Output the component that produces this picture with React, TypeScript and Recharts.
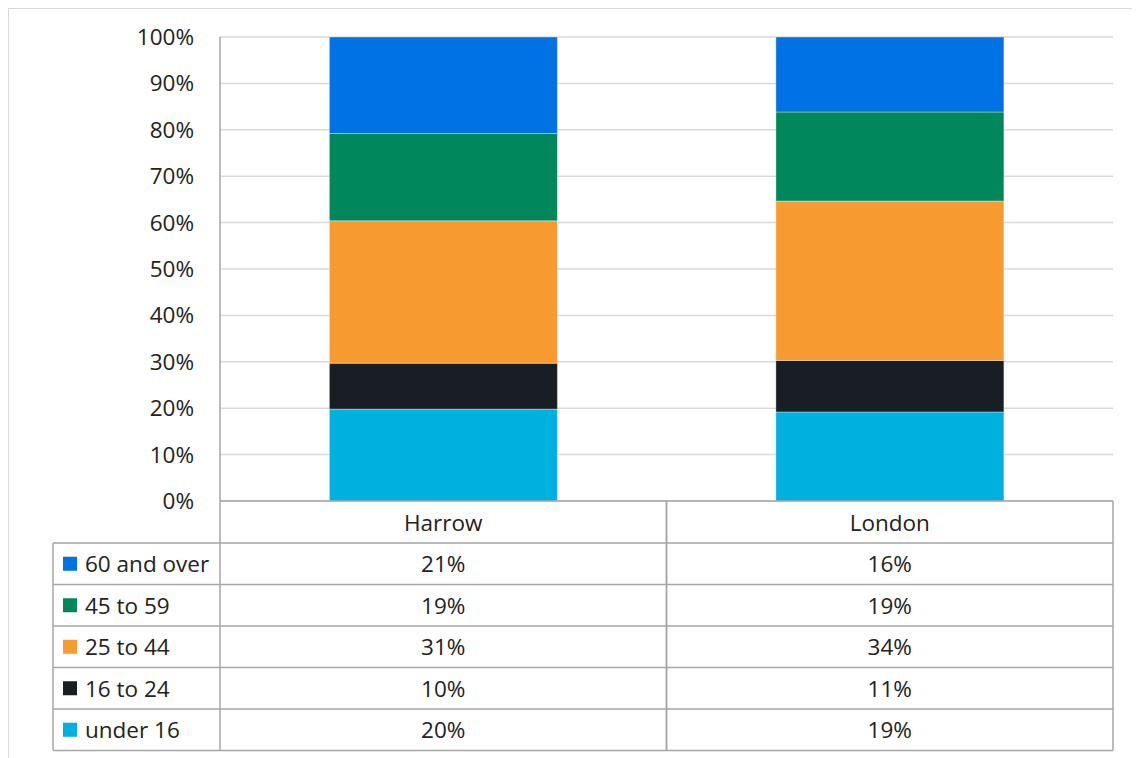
import React from 'react'
import { Bar, BarChart, CartesianGrid, XAxis, YAxis } from 'recharts'

const categories = ['Harrow', 'London']
const under16 = [20, 19]
const age16to24 = [10, 11]
const age25to44 = [31, 34]
const age45to59 = [19, 19]
const age60plus = [21, 16]
const yTicks = [0, 0.1, 0.2, 0.3, 0.4, 0.5, 0.6, 0.7, 0.8, 0.9, 1]

// bottom of the stack first
const series = [
  { key: 'under16', name: 'under 16', values: under16, color: '#00b0df' },
  { key: 'age16to24', name: '16 to 24', values: age16to24, color: '#191d24' },
  { key: 'age25to44', name: '25 to 44', values: age25to44, color: '#f79a30' },
  { key: 'age45to59', name: '45 to 59', values: age45to59, color: '#00875c' },
  { key: 'age60plus', name: '60 and over', values: age60plus, color: '#0072e3' },
]

const tableRows = [...series].reverse()

const data = categories.map((category, i) => {
  const row: Record<string, string | number> = { category }
  series.forEach((s) => {
    row[s.key] = s.values[i]
  })
  return row
})

const font = '"Open Sans", sans-serif'
const fontSize = 22.5
const textColor = '#222'
const lineColor = '#a6a6a6'
const headerHeight = 42
const rowHeight = 41.5
const legendWidth = 167

function TableColumnTick(props: any) {
  const { x, y, payload, index, width, visibleTicksCount } = props
  const colWidth = width && visibleTicksCount ? width / visibleTicksCount : 446.5
  const left = x - colWidth / 2
  const right = x + colWidth / 2
  const bottom = y + headerHeight + rowHeight * tableRows.length
  const i = payload.index ?? index

  return (
    <g>
      <line x1={left} y1={y} x2={left} y2={bottom} stroke={lineColor} strokeWidth={1.5} />
      <line x1={right} y1={y} x2={right} y2={bottom} stroke={lineColor} strokeWidth={1.5} />
      <text
        x={x}
        y={y + headerHeight / 2}
        textAnchor="middle"
        dominantBaseline="central"
        fontFamily={font}
        fontSize={fontSize}
        fill={textColor}
      >
        {payload.value}
      </text>
      {tableRows.map((s, r) => {
        const top = y + headerHeight + rowHeight * r
        return (
          <g key={s.key}>
            <line x1={left} y1={top} x2={right} y2={top} stroke={lineColor} strokeWidth={1.5} />
            <text
              x={x}
              y={top + rowHeight / 2}
              textAnchor="middle"
              dominantBaseline="central"
              fontFamily={font}
              fontSize={fontSize}
              fill={textColor}
            >
              {s.values[i]}%
            </text>
          </g>
        )
      })}
      <line x1={left} y1={bottom} x2={right} y2={bottom} stroke={lineColor} strokeWidth={1.5} />
      {i === 0 && (
        <g>
          <line
            x1={left - legendWidth}
            y1={y + headerHeight}
            x2={left - legendWidth}
            y2={bottom}
            stroke={lineColor}
            strokeWidth={1.5}
          />
          {tableRows.map((s, r) => {
            const top = y + headerHeight + rowHeight * r
            return (
              <g key={s.key}>
                <line x1={left - legendWidth} y1={top} x2={left} y2={top} stroke={lineColor} strokeWidth={1.5} />
                <rect x={left - legendWidth + 10} y={top + rowHeight / 2 - 7} width={14} height={14} fill={s.color} />
                <text
                  x={left - legendWidth + 32}
                  y={top + rowHeight / 2}
                  dominantBaseline="central"
                  fontFamily={font}
                  fontSize={fontSize}
                  fill={textColor}
                >
                  {s.name}
                </text>
              </g>
            )
          })}
          <line
            x1={left - legendWidth}
            y1={bottom}
            x2={left}
            y2={bottom}
            stroke={lineColor}
            strokeWidth={1.5}
          />
        </g>
      )}
    </g>
  )
}

export default function App() {
  return (
    <div
      style={{
        width: 1160,
        height: 770,
        border: '1px solid #d9d9d9',
        background: '#fff',
      }}
    >
      <style>{'html, body { overflow: hidden; }'}</style>
      <BarChart
        width={1124}
        height={745}
        data={data}
        stackOffset="expand"
        barCategoryGap="24.5%"
        margin={{ top: 28, right: 20, left: 151, bottom: 4 }}
      >
        <CartesianGrid vertical={false} stroke="#d9d9d9" strokeWidth={1.5} />
        <XAxis
          dataKey="category"
          height={249}
          axisLine={{ stroke: lineColor, strokeWidth: 1.5 }}
          tickLine={false}
          tickSize={0}
          tickMargin={0}
          interval={0}
          tick={<TableColumnTick />}
        />
        <YAxis
          width={60}
          domain={[0, 1]}
          ticks={yTicks}
          tickFormatter={(v: number) => `${Math.round(v * 100)}%`}
          axisLine={{ stroke: lineColor, strokeWidth: 1.5 }}
          tickLine={false}
          tickSize={0}
          tickMargin={26}
          tick={{ fill: textColor, fontSize, fontFamily: font }}
        />
        {series.map((s) => (
          <Bar
            key={s.key}
            dataKey={s.key}
            name={s.name}
            stackId="age"
            fill={s.color}
            stroke="#ffffff"
            strokeOpacity={0.35}
            strokeWidth={1}
            isAnimationActive={false}
          />
        ))}
      </BarChart>
    </div>
  )
}
